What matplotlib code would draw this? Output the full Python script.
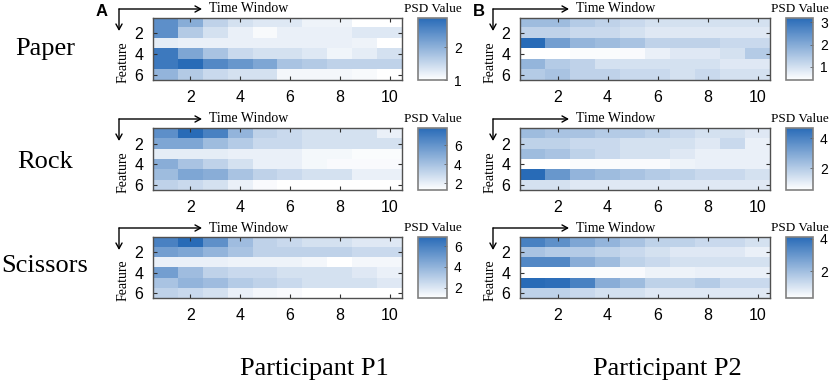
import numpy as np
import matplotlib
matplotlib.use('Agg')
import matplotlib.pyplot as plt
from matplotlib.colors import LinearSegmentedColormap
from matplotlib.patches import FancyArrowPatch

# ---------------- data ----------------
gestures = ['Paper', 'Rock', 'Scissors']
participants = ['Participant P1', 'Participant P2']
panel_letters = ['A', 'B']
time_windows = list(range(1, 11))
features = list(range(1, 7))
x_ticks = [2, 4, 6, 8, 10]
y_ticks = [2, 4, 6]

paper_p1 = [
    [2.43, 2.05, 1.57, 1.38, 1.29, 1.29, 1.15, 1.15, 1.00, 1.00],
    [2.43, 1.67, 1.38, 1.19, 1.06, 1.19, 1.19, 1.19, 1.29, 1.29],
    [1.23, 1.19, 1.19, 1.19, 1.19, 1.19, 1.19, 1.19, 1.15, 1.00],
    [2.71, 2.14, 1.76, 1.48, 1.38, 1.38, 1.29, 1.13, 1.23, 1.38],
    [2.71, 2.90, 2.52, 2.33, 2.14, 1.76, 1.67, 1.57, 1.57, 1.57],
    [1.95, 1.67, 1.48, 1.38, 1.38, 1.10, 1.10, 1.10, 1.06, 1.00],
]
rock_p1 = [
    [6.18, 7.80, 6.83, 4.55, 3.25, 2.93, 2.60, 2.60, 2.60, 1.95],
    [5.20, 5.20, 4.23, 3.58, 2.93, 2.93, 2.60, 2.60, 2.60, 2.60],
    [2.08, 2.08, 2.08, 1.95, 1.95, 1.95, 1.63, 1.63, 1.43, 1.43],
    [4.88, 3.90, 3.25, 2.60, 1.95, 1.95, 1.63, 1.50, 1.50, 1.50],
    [4.23, 5.20, 4.88, 3.90, 3.25, 2.93, 2.60, 2.60, 1.95, 1.95],
    [3.25, 2.93, 2.60, 1.95, 1.50, 1.30, 1.30, 1.30, 1.30, 1.30],
]
scissors_p1 = [
    [6.00, 6.90, 5.40, 3.65, 2.77, 2.48, 2.18, 2.18, 1.89, 1.89],
    [4.84, 4.54, 3.95, 3.36, 2.77, 2.77, 2.77, 2.77, 2.48, 2.48],
    [1.59, 1.59, 1.59, 1.47, 1.47, 1.47, 1.30, 1.00, 1.30, 1.30],
    [4.84, 3.65, 2.77, 2.48, 2.48, 2.18, 2.18, 2.18, 1.89, 1.59],
    [3.36, 3.95, 3.65, 3.07, 2.77, 2.48, 2.18, 2.18, 2.18, 1.89],
    [2.77, 2.48, 2.18, 1.59, 1.30, 1.18, 1.00, 1.00, 1.00, 1.00],
]
paper_p2 = [
    [1.66, 1.66, 1.38, 1.24, 1.10, 0.96, 0.96, 0.96, 0.96, 0.96],
    [1.24, 1.24, 1.10, 1.10, 0.96, 0.82, 0.82, 0.82, 0.82, 0.82],
    [3.20, 2.22, 1.80, 1.66, 1.52, 1.24, 1.24, 1.24, 1.10, 1.10],
    [0.40, 0.40, 0.46, 0.46, 0.48, 0.68, 0.82, 0.82, 0.96, 1.38],
    [1.80, 1.38, 1.24, 0.96, 0.96, 0.96, 0.96, 0.96, 0.82, 0.82],
    [1.38, 1.52, 1.24, 1.24, 1.10, 1.10, 0.96, 1.10, 0.96, 0.96],
]
rock_p2 = [
    [2.42, 2.21, 2.21, 2.00, 2.00, 1.80, 1.59, 1.38, 1.38, 1.17],
    [1.80, 1.80, 1.59, 1.59, 1.38, 1.38, 1.38, 1.17, 1.59, 0.97],
    [2.42, 2.21, 1.80, 1.59, 1.38, 1.38, 1.17, 0.97, 0.97, 0.97],
    [0.55, 0.55, 0.63, 0.63, 0.67, 0.67, 0.88, 0.97, 0.97, 0.97],
    [4.70, 3.46, 2.63, 2.42, 2.21, 2.00, 1.80, 1.59, 1.59, 1.38],
    [1.38, 1.38, 1.17, 1.17, 1.17, 1.17, 1.17, 1.17, 1.17, 1.17],
]
scissors_p2 = [
    [3.54, 3.16, 2.60, 2.23, 1.85, 1.48, 1.48, 1.29, 1.29, 1.10],
    [1.85, 1.66, 1.66, 1.48, 1.29, 1.10, 0.91, 0.91, 0.91, 0.73],
    [3.35, 3.35, 2.41, 2.04, 1.48, 1.29, 1.10, 1.10, 1.10, 1.10],
    [0.35, 0.35, 0.43, 0.43, 0.46, 0.65, 0.65, 0.73, 0.73, 0.73],
    [4.10, 4.00, 3.54, 2.41, 2.04, 1.48, 1.48, 1.66, 1.29, 1.29],
    [1.48, 1.48, 1.29, 1.10, 1.10, 0.91, 0.91, 0.91, 0.91, 0.91],
]

cbar_ticks_p1 = [[1, 2], [2, 4, 6], [2, 4, 6]]
cbar_ticks_p2 = [[1, 2, 3], [2, 4], [2, 4]]

data_grid = [[paper_p1, paper_p2], [rock_p1, rock_p2], [scissors_p1, scissors_p2]]
cbar_ticks = [cbar_ticks_p1, cbar_ticks_p2]

# ---------------- layout (pixels) ----------------
W, H = 835, 383
fig = plt.figure(figsize=(W / 100, H / 100), dpi=100)

def fx(x):
    return x / W

def fy(y):
    return 1 - y / H

heat_left = [153, 520]
heat_right = [402, 770]
cb_left = [418, 786]
cb_right = [447, 813]
row_top = [18, 128, 237]
row_bot = [80, 190, 298]
corner_off = [34, 27]

cmap = LinearSegmentedColormap.from_list('wb', [(1, 1, 1), (0.16, 0.42, 0.72)])
serif = 'Liberation Serif'
sans = 'Liberation Sans'

for r in range(3):
    T, B = row_top[r], row_bot[r]
    for c in range(2):
        L, R = heat_left[c], heat_right[c]
        ax = fig.add_axes([fx(L), fy(B), (R - L) / W, (B - T) / H])
        arr = np.array(data_grid[r][c])
        im = ax.imshow(arr, cmap=cmap, aspect='auto', interpolation='nearest',
                       extent=(0.5, 10.5, 6.5, 0.5))
        ax.set_xticks(x_ticks)
        ax.set_yticks(y_ticks)
        ax.tick_params(direction='in', top=True, right=True, length=3, width=0.8,
                       labelsize=11.5, pad=7, color='#303030')
        for lab in ax.get_xticklabels() + ax.get_yticklabels():
            lab.set_fontfamily(sans)
        for sp in ax.spines.values():
            sp.set_color('#505050')
            sp.set_linewidth(1.0)

        # colorbar
        cax = fig.add_axes([fx(cb_left[c]), fy(B), (cb_right[c] - cb_left[c]) / W, (B - T) / H])
        cb = fig.colorbar(im, cax=cax, ticks=cbar_ticks[c][r])
        cb.ax.set_yticklabels([str(t) for t in cbar_ticks[c][r]], fontfamily=sans)
        cax.tick_params(direction='in', length=2, width=0.6, labelsize=10, pad=5, color='#606060')
        cb.outline.set_edgecolor('#808080')
        cb.outline.set_linewidth(1.2)

        # PSD Value label
        fig.text(fx((cb_left[c] + cb_right[c]) / 2), fy(T - 9), 'PSD Value',
                 ha='center', va='center', fontsize=9.5, family=serif)

        # L-shaped arrow
        cx = L - corner_off[c]
        hy = T - 9
        for end in [(fx(L + 49), fy(hy)), (fx(cx), fy(T + 13))]:
            fig.patches.append(FancyArrowPatch(
                (fx(cx), fy(hy)), end, transform=fig.transFigure,
                arrowstyle='->,head_length=4,head_width=2.2', lw=1.0, color='black',
                shrinkA=0, shrinkB=0, figure=fig))
        fig.text(fx(L + 56), fy(hy), 'Time Window', ha='left', va='center',
                 fontsize=10, family=serif)

        # Feature label
        fig.text(fx(L - 30), fy((T + B) / 2 + 13), 'Feature', rotation=90,
                 ha='center', va='center', fontsize=10, family=serif)

# row labels
row_baselines = [55, 168, 272]
for r, g in enumerate(gestures):
    fig.text(fx(45), fy(row_baselines[r]), g, ha='center', va='baseline',
             fontsize=19, family=serif)

# participant labels
part_x = [314, 667]
for c, p in enumerate(participants):
    fig.text(fx(part_x[c]), fy(375), p, ha='center', va='baseline',
             fontsize=19, family=serif)

# panel letters
letter_pos = [(102, 11), (479, 12)]
for c, l in enumerate(panel_letters):
    fig.text(fx(letter_pos[c][0]), fy(letter_pos[c][1]), l, ha='center', va='center',
             fontsize=12, fontweight='bold', family=sans)

fig.savefig('out.png', dpi=100)
